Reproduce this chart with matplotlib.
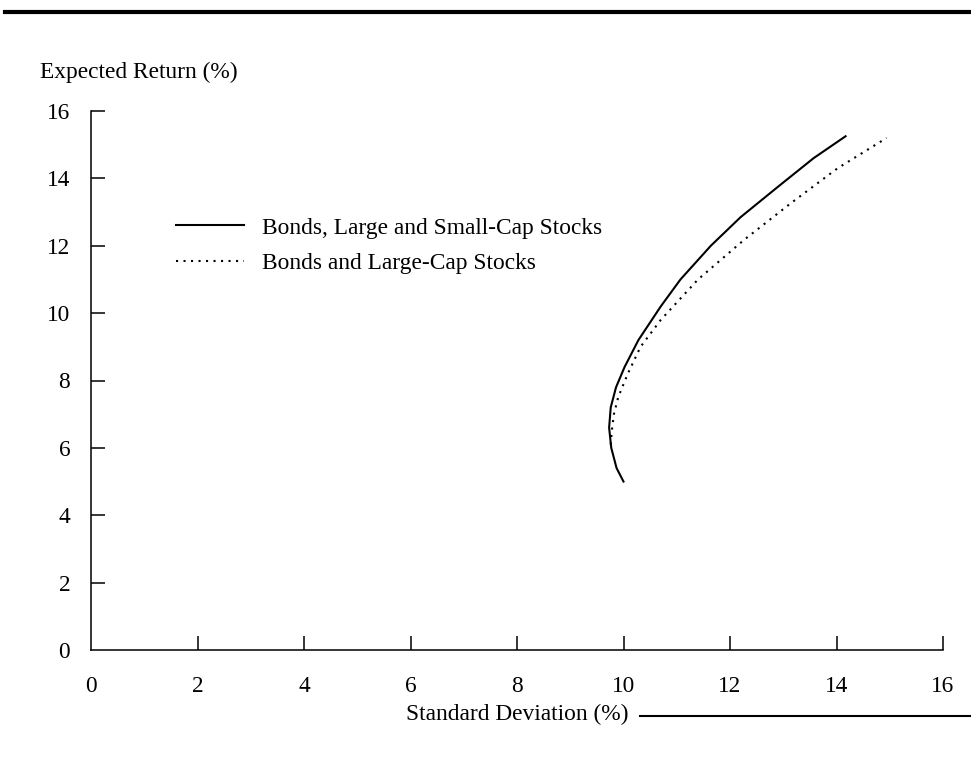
import matplotlib
matplotlib.use("Agg")
import matplotlib.pyplot as plt
from matplotlib.lines import Line2D

# efficient frontiers (std dev %, expected return %)
sd_three = [10.0, 9.87, 9.77, 9.73, 9.76, 9.86, 10.02, 10.28, 10.7, 11.07, 11.64, 12.2, 12.9, 13.57, 14.17]
ret_three = [5.0, 5.4, 6.0, 6.6, 7.2, 7.8, 8.4, 9.2, 10.2, 11.0, 12.0, 12.85, 13.75, 14.6, 15.25]
sd_two = [9.76, 9.78, 9.82, 9.9, 10.08, 10.32, 10.7, 11.4, 12.26, 13.14, 14.02, 14.94]
ret_two = [6.1, 6.5, 7.0, 7.5, 8.2, 9.0, 9.8, 11.0, 12.17, 13.26, 14.3, 15.2]
labels = ["Bonds, Large and Small-Cap Stocks", "Bonds and Large-Cap Stocks"]
ticks = list(range(0, 17, 2))

plt.rcParams['font.family'] = ['Liberation Serif', 'DejaVu Serif']
fs = 16.8

fig = plt.figure(figsize=(9.71, 7.79), dpi=100)
ax = fig.add_axes([91 / 971, 1 - 650 / 779, 852 / 971, 539 / 779])

ax.plot(sd_three, ret_three, color="black", lw=1.5, label=labels[0])
ax.plot(sd_two, ret_two, color="black", lw=1.5, linestyle=(0, (1, 2.6)), label=labels[1])

ax.set_xlim(0, 16)
ax.set_ylim(0, 16)
ax.spines["top"].set_visible(False)
ax.spines["right"].set_visible(False)
for s in ["left", "bottom"]:
    ax.spines[s].set_linewidth(1.1)
ax.set_xticks(ticks)
ax.set_yticks(ticks)
ax.tick_params(axis="x", direction="in", length=10, width=1.1, pad=19, labelsize=fs)
ax.tick_params(axis="y", direction="in", length=10, width=1.1, pad=15, labelsize=fs)
ax.xaxis.get_major_ticks()[0].tick1line.set_visible(False)
ax.yaxis.get_major_ticks()[0].tick1line.set_visible(False)

ax.set_xlabel("Standard Deviation (%)", fontsize=fs, labelpad=5)
fig.text(40 / 971, 1 - 72 / 779, "Expected Return (%)", fontsize=fs, va="center", ha="left")

leg = ax.legend(loc="upper left", bbox_to_anchor=(0.1, 0.803), frameon=False,
                fontsize=fs, handlelength=2.9, handletextpad=0.77, labelspacing=0.6,
                borderpad=0, borderaxespad=0)

# page rules
fig.add_artist(Line2D([5 / 971, 1], [1 - 12 / 779, 1 - 12 / 779], color="black", lw=3))
fig.add_artist(Line2D([640 / 971, 1], [1 - 716 / 779, 1 - 716 / 779], color="black", lw=1.5))

fig.savefig("out.png", dpi=100)
